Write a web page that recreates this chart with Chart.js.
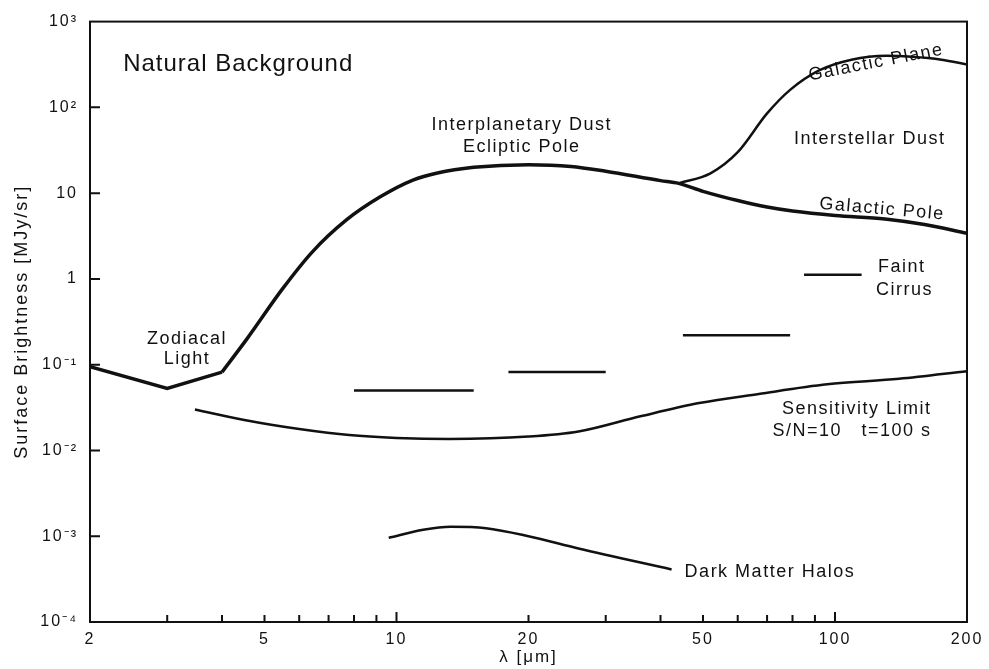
<!DOCTYPE html>
<html>
<head>
<meta charset="utf-8">
<script src="https://cdn.jsdelivr.net/npm/chart.js@4.4.1/dist/chart.umd.min.js"></script>
<style>
  html, body { margin: 0; padding: 0; background: #fff; }
  #wrap { width: 989px; height: 669px; position: relative; }
</style>
</head>
<body>
<div id="wrap"><canvas id="chart"></canvas></div>
<script>
// wavelength [um] / surface brightness [MJy/sr]
var zodiacalX = [2, 3, 4];
var zodiacalY = [0.095, 0.053, 0.082];

var dustX = [4, 4.56, 5.5, 6.43, 7.7, 9.16, 10.9, 12.4, 15, 20, 25, 30, 40, 44, 50, 60, 70, 80, 100, 130, 160, 200];
var dustY = [0.082, 0.2, 0.77, 2.07, 4.9, 9.0, 14.2, 17.2, 20, 21.5, 20.5, 18, 14, 13, 10.5, 8.2, 6.9, 6.2, 5.5, 5.0, 4.3, 3.4];

var planeX = [44, 52, 60, 70, 79, 92, 109, 131, 150, 175, 200];
var planeY = [13, 17, 30, 85, 160, 270, 360, 400, 390, 360, 316];

var sensX = [3.47, 4.63, 6, 7.8, 10, 13.2, 20, 26, 36, 49, 67, 96, 140, 200];
var sensY = [0.030, 0.022, 0.0178, 0.0151, 0.0140, 0.0136, 0.0145, 0.0166, 0.025, 0.0357, 0.0456, 0.059, 0.0684, 0.084];

var haloX = [9.6, 11.5, 13.3, 16, 20, 26, 42.4];
var haloY = [0.00096, 0.00119, 0.00129, 0.00124, 0.00100, 0.00072, 0.00041];

// faint cirrus bars
var cirrusFrom = [8, 18, 45, 85];
var cirrusTo = [15, 30, 79, 115];
var cirrusLevel = [0.05, 0.082, 0.22, 1.12];

var xTicks = [2, 3, 4, 5, 6, 7, 8, 9, 10, 20, 30, 40, 50, 60, 70, 80, 90, 100, 200];
var xLabelled = [2, 5, 10, 20, 50, 100, 200];
var yTicks = [1e-4, 1e-3, 1e-2, 1e-1, 1, 10, 100, 1000];
var yTickLabels = ['10⁻⁴', '10⁻³', '10⁻²', '10⁻¹', '1', '10', '10²', '10³'];

var FONT = '"Liberation Sans", Arial, Helvetica, sans-serif';
var INK = '#111';

// text notes placed in data coordinates
var notes = [
  { text: 'Natural Background', x: 2.38, y: 316, size: 24, sp: 1, align: 'left' },
  { text: 'Interplanetary Dust', x: 19.3, y: 62, size: 18 },
  { text: 'Ecliptic Pole', x: 19.3, y: 34.4, size: 18 },
  { text: 'Interstellar Dust', x: 120, y: 42.7, size: 18 },
  { text: 'Galactic Plane', x: 124, y: 334, size: 18, rot: -11 },
  { text: 'Galactic Pole', x: 128, y: 6.5, size: 18, rot: 5 },
  { text: 'Faint', x: 142, y: 1.39, size: 18 },
  { text: 'Cirrus', x: 144, y: 0.75, size: 18 },
  { text: 'Sensitivity Limit', x: 166, y: 0.0303, size: 18, align: 'right' },
  { text: 'S/N=10   t=100 s', x: 166, y: 0.0169, size: 18, align: 'right' },
  { text: 'Zodiacal', x: 3.33, y: 0.197, size: 18 },
  { text: 'Light', x: 3.33, y: 0.1156, size: 18 },
  { text: 'Dark Matter Halos', x: 45.4, y: 0.00038, size: 18, align: 'left' }
];

function pts(xs, ys) {
  return xs.map(function (x, i) { return { x: x, y: ys[i] }; });
}

var datasets = [
  { label: 'Zodiacal Light', data: pts(zodiacalX, zodiacalY), borderWidth: 3.5, tension: 0 },
  { label: 'Interplanetary Dust / Galactic Pole', data: pts(dustX, dustY), borderWidth: 3.5, cubicInterpolationMode: 'monotone' },
  { label: 'Galactic Plane', data: pts(planeX, planeY), borderWidth: 2.5, cubicInterpolationMode: 'monotone' },
  { label: 'Sensitivity Limit', data: pts(sensX, sensY), borderWidth: 2.5, cubicInterpolationMode: 'monotone' },
  { label: 'Dark Matter Halos', data: pts(haloX, haloY), borderWidth: 2.5, cubicInterpolationMode: 'monotone' }
];
cirrusLevel.forEach(function (lv, i) {
  datasets.push({ label: 'Faint Cirrus ' + (i + 1), data: [{ x: cirrusFrom[i], y: lv }, { x: cirrusTo[i], y: lv }], borderWidth: 2.5 });
});
datasets.forEach(function (d) {
  d.borderColor = INK;
  d.pointRadius = 0;
  d.fill = false;
});

var framePlugin = {
  id: 'frame',
  beforeDraw: function (chart) {
    // wider spacing for the scanned-looking tick labels and axis titles
    chart.ctx.letterSpacing = '2px';
  },
  afterDraw: function (chart) {
    var ctx = chart.ctx, a = chart.chartArea;
    var xs = chart.scales.x, ys = chart.scales.y;
    ctx.save();
    ctx.strokeStyle = INK;
    ctx.lineWidth = 2;
    ctx.strokeRect(a.left, a.top, a.right - a.left, a.bottom - a.top);
    ctx.beginPath();
    xTicks.forEach(function (v) {
      if (v === 2 || v === 200) return;
      var px = xs.getPixelForValue(v);
      var len = (v === 10 || v === 100) ? 10 : 7;
      ctx.moveTo(px, a.bottom);
      ctx.lineTo(px, a.bottom - len);
    });
    yTicks.forEach(function (v) {
      if (v === 1e-4 || v === 1000) return;
      var py = ys.getPixelForValue(v);
      ctx.moveTo(a.left, py);
      ctx.lineTo(a.left + 10, py);
    });
    ctx.stroke();

    ctx.fillStyle = INK;
    ctx.textBaseline = 'middle';
    notes.forEach(function (n) {
      ctx.save();
      ctx.font = n.size + 'px ' + FONT;
      ctx.letterSpacing = (n.sp != null ? n.sp : 1.5) + 'px';
      ctx.textAlign = n.align || 'center';
      var px = xs.getPixelForValue(n.x);
      var py = ys.getPixelForValue(n.y);
      ctx.translate(px, py);
      if (n.rot) ctx.rotate(n.rot * Math.PI / 180);
      ctx.fillText(n.text, 0, 0);
      ctx.restore();
    });
    ctx.restore();
  }
};

new Chart(document.getElementById('chart'), {
  type: 'line',
  data: { datasets: datasets },
  options: {
    responsive: true,
    maintainAspectRatio: false,
    animation: false,
    layout: { padding: { left: 0, right: 22, top: 19, bottom: 0 } },
    plugins: { legend: { display: false }, tooltip: { enabled: false } },
    scales: {
      x: {
        type: 'logarithmic',
        min: 2,
        max: 200,
        grid: { display: false, drawTicks: false },
        border: { display: false },
        afterBuildTicks: function (scale) {
          scale.ticks = xTicks.map(function (v) { return { value: v }; });
        },
        afterFit: function (scale) { scale.height = 47; },
        ticks: {
          autoSkip: false,
          maxRotation: 0,
          padding: 8,
          color: INK,
          font: { family: FONT, size: 16 },
          callback: function (v) { return xLabelled.indexOf(v) >= 0 ? String(v) : ''; }
        },
        title: {
          display: true,
          text: 'λ [μm]',
          color: INK,
          font: { family: FONT, size: 17 },
          padding: { top: 0, bottom: 1 }
        }
      },
      y: {
        type: 'logarithmic',
        min: 1e-4,
        max: 1000,
        grid: { display: false, drawTicks: false },
        border: { display: false },
        afterBuildTicks: function (scale) {
          scale.ticks = yTicks.map(function (v) { return { value: v }; });
        },
        afterFit: function (scale) { scale.width = 90; },
        ticks: {
          autoSkip: false,
          padding: 12,
          color: INK,
          font: { family: FONT, size: 16 },
          callback: function (v) {
            var i = yTicks.indexOf(v);
            return i >= 0 ? yTickLabels[i] : '';
          }
        },
        title: {
          display: true,
          text: 'Surface Brightness [MJy/sr]',
          color: INK,
          font: { family: FONT, size: 18 },
          padding: { top: 11, bottom: 0 }
        }
      }
    }
  },
  plugins: [framePlugin]
});
</script>
</body>
</html>
